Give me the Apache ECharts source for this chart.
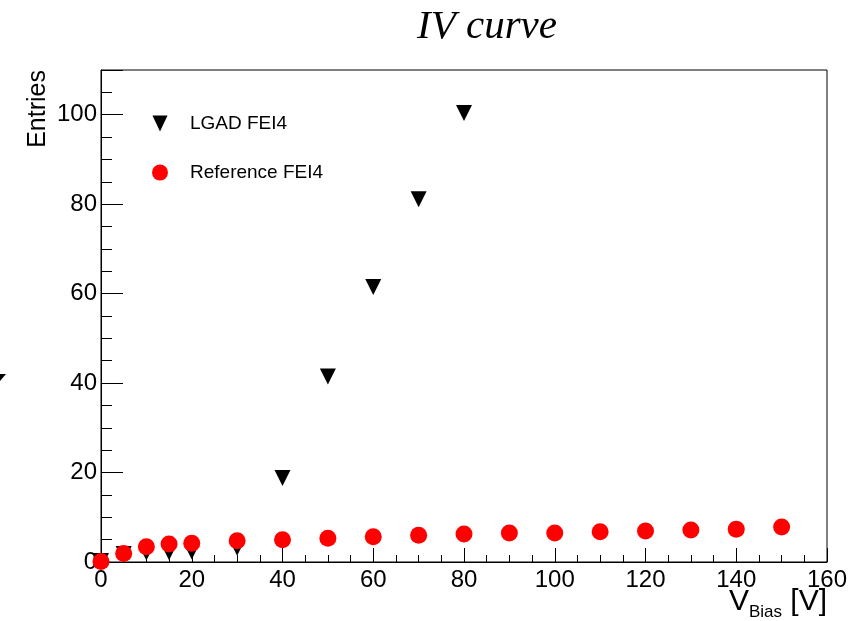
<!DOCTYPE html>
<html>
<head>
<meta charset="utf-8">
<script src="https://cdn.jsdelivr.net/npm/echarts@6/dist/echarts.min.js"></script>
<style>
html,body{margin:0;padding:0;background:#fff;}
#main{width:855px;height:621px;}
</style>
</head>
<body>
<div id="main"></div>
<script>
// ---- data ----
const lgadX = [0, 5, 10, 15, 20, 30, 40, 50, 60, 70, 80];
const lgadY = [0.2, 1.8, 2.1, 2.2, 2.35, 3.2, 18.8, 41.5, 61.5, 81.1, 100.4];
const refX = [0, 5, 10, 15, 20, 30, 40, 50, 60, 70, 80, 90, 100, 110, 120, 130, 140, 150];
const refY = [0.1, 1.9, 3.4, 4.0, 4.2, 4.75, 4.95, 5.3, 5.65, 6.0, 6.25, 6.5, 6.5, 6.75, 6.95, 7.15, 7.35, 7.85];
const seriesNames = ['LGAD FEI4', 'Reference FEI4'];
const titleText = 'IV curve';
const yTitle = 'Entries';

const FONT = 'Liberation Sans, Arial, Helvetica, sans-serif';
const chart = echarts.init(document.getElementById('main'), null, {renderer: 'canvas'});

const zip = (xs, ys) => xs.map((x, i) => [x, ys[i]]);

chart.setOption({
  animation: false,
  backgroundColor: '#fff',
  title: {
    text: titleText,
    left: 412, top: 2,
    textStyle: {fontFamily: 'Liberation Serif, Times New Roman, serif', fontStyle: 'italic', fontWeight: 'normal', fontSize: 41, color: '#000'}
  },
  legend: {
    orient: 'vertical',
    left: 147, top: 109,
    itemWidth: 16, itemHeight: 16, itemGap: 30,
    data: [
      {name: seriesNames[0], icon: 'path://M0,0 L16,0 L8,17 Z'},
      {name: seriesNames[1], icon: 'circle'}
    ],
    textStyle: {fontFamily: FONT, fontSize: 19, color: '#000', padding: [0, 0, 0, 17]}
  },
  grid: {left: 101, right: 28, top: 70, bottom: 59, show: true, borderColor: '#000', borderWidth: 1, backgroundColor: 'transparent'},
  xAxis: {
    type: 'value', min: 0, max: 160, interval: 20,
    name: '{v|V}{s|Bias}{v| [V]}',
    nameLocation: 'end', nameGap: 0, nameMoveOverlap: false,
    nameTextStyle: {
      align: 'right', verticalAlign: 'top', padding: [25, 0, 0, 0],
      rich: {
        v: {fontFamily: FONT, fontSize: 30, color: '#000', verticalAlign: 'top'},
        s: {fontFamily: FONT, fontSize: 17, color: '#000', verticalAlign: 'bottom', padding: [17, 0, 0, 0]}
      }
    },
    axisLine: {show: true, lineStyle: {color: '#000', width: 1}},
    axisTick: {show: true, inside: true, length: 14, lineStyle: {color: '#000'}},
    minorTick: {show: true, splitNumber: 4, length: 7, lineStyle: {color: '#000'}},
    axisLabel: {fontFamily: FONT, fontSize: 24, color: '#000', margin: 6},
    splitLine: {show: false}
  },
  yAxis: [{
    type: 'value', min: 0, max: 110, interval: 20,
    name: yTitle, nameLocation: 'end', nameGap: 0, nameRotate: 90, nameMoveOverlap: false,
    nameTextStyle: {fontFamily: FONT, fontSize: 25, color: '#000', align: 'right', verticalAlign: 'bottom', padding: [0, 0, 50, 0]},
    axisLine: {show: true, lineStyle: {color: '#000', width: 1}},
    axisTick: {show: true, inside: true, length: 22, lineStyle: {color: '#000', width: 1}},
    axisLabel: {fontFamily: FONT, fontSize: 24, color: '#000', margin: 4,
      formatter: v => (v % 20 === 0 ? String(v) : '')},
    splitLine: {show: false}
  }, {
    type: 'value', min: 0, max: 110, interval: 5, position: 'left', offset: 0,
    axisLine: {show: false},
    axisTick: {show: true, inside: true, length: 11, lineStyle: {color: '#000', width: 1}},
    axisLabel: {show: false},
    splitLine: {show: false}
  }],
  graphic: [{
    type: 'polygon', shape: {points: [[0, 374], [6, 374], [0, 381]]}, style: {fill: '#000'}, silent: true
  }],
  series: [{
    name: seriesNames[0], type: 'scatter', yAxisIndex: 0,
    symbol: 'triangle', symbolRotate: 180, symbolSize: 16,
    itemStyle: {color: '#000', opacity: 1},
    data: zip(lgadX, lgadY), z: 2
  }, {
    name: seriesNames[1], type: 'scatter', yAxisIndex: 0,
    symbol: 'circle', symbolSize: 17,
    itemStyle: {color: '#ff0000', opacity: 1},
    data: zip(refX, refY), z: 3
  }]
});
</script>
</body>
</html>
